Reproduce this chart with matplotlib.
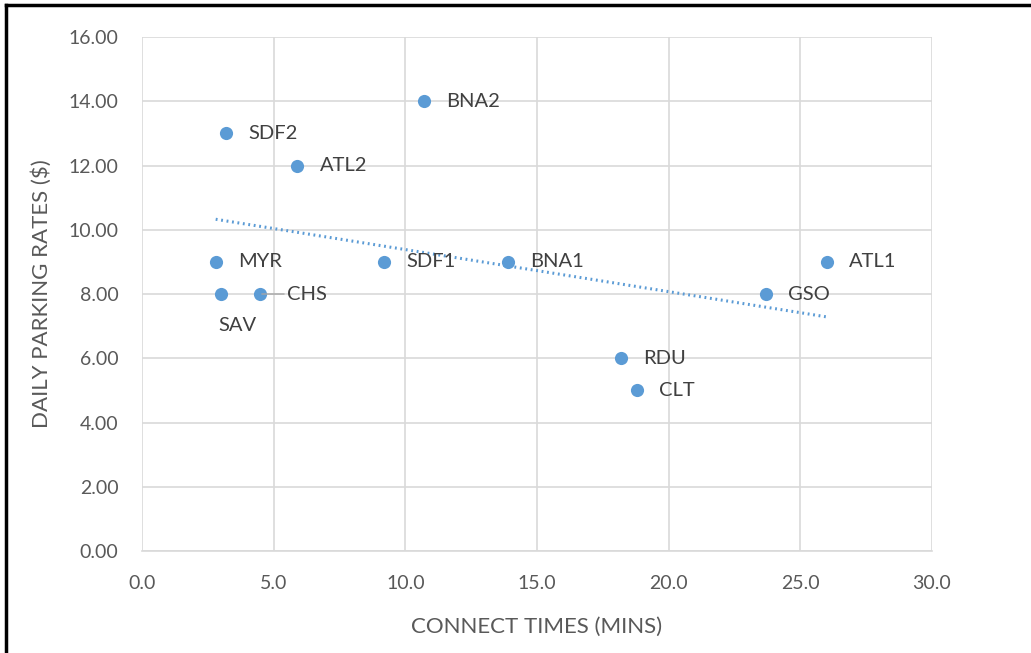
import numpy as np
import matplotlib
matplotlib.use("Agg")
import matplotlib.pyplot as plt
from matplotlib.lines import Line2D

plt.rcParams['font.family'] = ['Lato', 'DejaVu Sans']

# airports: connect time vs daily parking rate
airports = ['SDF2', 'BNA2', 'ATL2', 'MYR', 'SAV', 'CHS', 'SDF1', 'BNA1', 'ATL1', 'GSO', 'RDU', 'CLT']
connect_mins = [3.2, 10.7, 5.9, 2.8, 3.0, 4.5, 9.2, 13.9, 26.0, 23.7, 18.2, 18.8]
parking_rate = [13.0, 14.0, 12.0, 9.0, 8.0, 8.0, 9.0, 9.0, 9.0, 8.0, 6.0, 5.0]

blue = '#5b9bd5'
grey_txt = '#595959'
label_txt = '#404040'

fig = plt.figure(figsize=(10.31, 6.53), dpi=100)
ax = fig.add_axes([0.1377, 0.1562, 0.7662, 0.7871])

ax.scatter(connect_mins, parking_rate, s=90, color=blue, zorder=3, linewidths=0)

# linear trendline
slope, intercept = np.polyfit(connect_mins, parking_rate, 1)
tx = np.array([min(connect_mins), max(connect_mins)])
ax.plot(tx, slope * tx + intercept, color=blue, lw=2.2, linestyle=(0, (0.6, 1.2)),
        dash_capstyle='butt', zorder=2)

for name, x, y in zip(airports, connect_mins, parking_rate):
    if name == 'SAV':
        ax.annotate(name, (x, y), xytext=(12, -23), textcoords='offset points',
                    ha='center', va='center', fontsize=14.5, color=label_txt)
    elif name == 'CHS':
        ax.annotate(name, (x, y), xytext=(19, 0), textcoords='offset points',
                    ha='left', va='center', fontsize=14.5, color=label_txt,
                    arrowprops=dict(arrowstyle='-', color='#a6a6a6', lw=1,
                                    shrinkA=0, shrinkB=1))
    else:
        ax.annotate(name, (x, y), xytext=(16, 0), textcoords='offset points',
                    ha='left', va='center', fontsize=14.5, color=label_txt)

ax.set_xlim(0, 30)
ax.set_ylim(0, 16)
ax.set_xticks(np.arange(0, 30.1, 5))
ax.set_yticks(np.arange(0, 16.1, 2))
ax.set_xticklabels([f'{v:.1f}' for v in np.arange(0, 30.1, 5)])
ax.set_yticklabels([f'{v:.2f}' for v in np.arange(0, 16.1, 2)])
ax.tick_params(length=0, labelsize=14, labelcolor=grey_txt)
ax.tick_params(axis='y', pad=17)
ax.tick_params(axis='x', pad=17)
ax.grid(True, color='#d9d9d9', lw=1.2)
ax.set_axisbelow(True)
for side in ['top', 'right', 'left']:
    ax.spines[side].set_visible(False)
ax.spines['bottom'].set_color('#d9d9d9')
ax.spines['bottom'].set_linewidth(1.2)

ax.set_xlabel('CONNECT TIMES (MINS)', fontsize=16, color=grey_txt, labelpad=18)
ax.set_ylabel('DAILY PARKING RATES ($)', fontsize=16, color=grey_txt, labelpad=12)

# frame on top and left edges
fig.add_artist(Line2D([6 / 1031, 6 / 1031], [0, 1 - 5 / 653], transform=fig.transFigure,
                      color='black', lw=2.5))
fig.add_artist(Line2D([6 / 1031, 1], [1 - 5 / 653, 1 - 5 / 653], transform=fig.transFigure,
                      color='black', lw=2.5))

fig.savefig('out.png', dpi=100)
